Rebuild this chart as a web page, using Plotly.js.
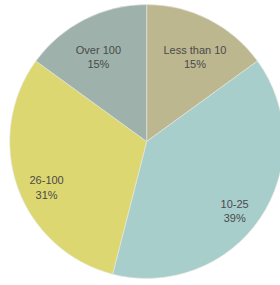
<!DOCTYPE html>
<html>
<head>
<meta charset="utf-8">
<script src="https://cdn.plot.ly/plotly-3.0.1.min.js"></script>
<style>
html,body{margin:0;padding:0;overflow:hidden;background:#fff;}
#chart{width:284px;height:285px;}
</style>
</head>
<body>
<div id="chart"></div>
<script>
var categories = ["Less than 10", "10-25", "26-100", "Over 100"];
var values = [15, 39, 31, 15];
var colors = ["#bdb790", "#a8cecc", "#ddd772", "#9eb2ab"];

var dom = {x: [0.034, 0.999], y: [0.023, 0.984]};
var labelDom = {x: [0.048, 0.985], y: [0.002, 0.935]};

var base = {
  type: "pie",
  labels: categories,
  values: values,
  sort: false,
  direction: "clockwise",
  rotation: 0,
  textinfo: "none",
  marker: {colors: colors, line: {color: "#e8e8e0", width: 0.6}},
  domain: dom,
  hoverinfo: "none",
  showlegend: false
};

var labelsRing = {
  type: "pie",
  labels: categories,
  values: values,
  sort: false,
  direction: "clockwise",
  rotation: 0,
  hole: 0.6,
  textinfo: "label+percent",
  textposition: "inside",
  insidetextorientation: "horizontal",
  textfont: {family: "Liberation Sans, Arial, sans-serif", size: 11, color: "#4a4a4a"},
  marker: {colors: ["rgba(0,0,0,0)", "rgba(0,0,0,0)", "rgba(0,0,0,0)", "rgba(0,0,0,0)"], line: {width: 0}},
  domain: labelDom,
  hoverinfo: "none",
  showlegend: false
};

var layout = {
  width: 284,
  height: 285,
  margin: {l: 0, r: 0, t: 0, b: 0},
  paper_bgcolor: "#ffffff",
  showlegend: false,
  uniformtext: {mode: "show", minsize: 11}
};

Plotly.newPlot("chart", [base, labelsRing], layout, {displayModeBar: false, staticPlot: true});
</script>
</body>
</html>
